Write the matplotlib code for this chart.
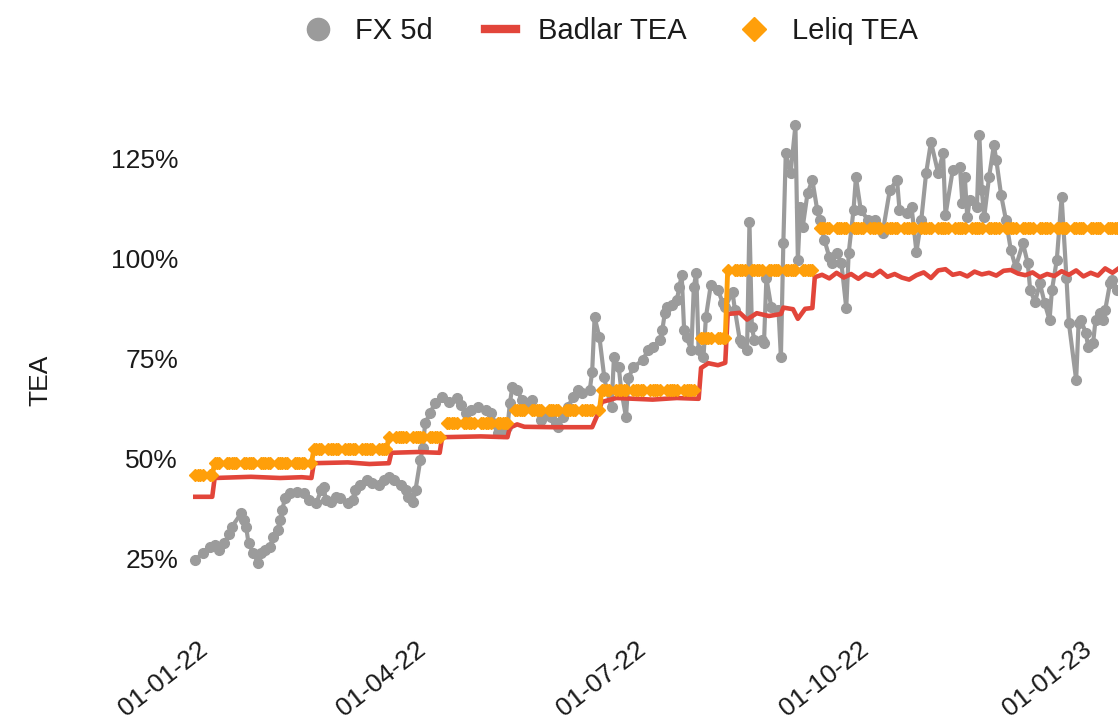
import numpy as np
import pandas as pd
import matplotlib
matplotlib.use("Agg")
import matplotlib.pyplot as plt
import matplotlib.dates as mdates
from matplotlib.lines import Line2D

plt.rcParams['font.family'] = ['Liberation Sans', 'DejaVu Sans']

# FX 5d (gray)
fx_dates = [
    "2021-12-28", "2021-12-31", "2022-01-03", "2022-01-05", "2022-01-07", "2022-01-09", "2022-01-11", "2022-01-12", "2022-01-16", "2022-01-17", "2022-01-18", "2022-01-19", "2022-01-21", "2022-01-23", "2022-01-24", "2022-01-26", "2022-01-28", "2022-01-29", "2022-01-31",
    "2022-02-01", "2022-02-02", "2022-02-03", "2022-02-05", "2022-02-08", "2022-02-11", "2022-02-13", "2022-02-16", "2022-02-18", "2022-02-19", "2022-02-20", "2022-02-22", "2022-02-24", "2022-02-26",
    "2022-03-01", "2022-03-03", "2022-03-04", "2022-03-06", "2022-03-09", "2022-03-11", "2022-03-14", "2022-03-16", "2022-03-18", "2022-03-20", "2022-03-23", "2022-03-25", "2022-03-26", "2022-03-28", "2022-03-29", "2022-03-31",
    "2022-04-01", "2022-04-02", "2022-04-04", "2022-04-06", "2022-04-09", "2022-04-12", "2022-04-15", "2022-04-17", "2022-04-19", "2022-04-21", "2022-04-24", "2022-04-27", "2022-04-29", "2022-04-30",
    "2022-05-02", "2022-05-04", "2022-05-06", "2022-05-07", "2022-05-08", "2022-05-10", "2022-05-12", "2022-05-14", "2022-05-16", "2022-05-18", "2022-05-20", "2022-05-22", "2022-05-24", "2022-05-26", "2022-05-27", "2022-05-29", "2022-05-31",
    "2022-06-02", "2022-06-04", "2022-06-06", "2022-06-09", "2022-06-10", "2022-06-11", "2022-06-13", "2022-06-15", "2022-06-16", "2022-06-18", "2022-06-19", "2022-06-21", "2022-06-22", "2022-06-24", "2022-06-25", "2022-06-27",
    "2022-07-01", "2022-07-03", "2022-07-05", "2022-07-08", "2022-07-09", "2022-07-10", "2022-07-11", "2022-07-13", "2022-07-15", "2022-07-16", "2022-07-17", "2022-07-18", "2022-07-19", "2022-07-21", "2022-07-22", "2022-07-23", "2022-07-24", "2022-07-26", "2022-07-27", "2022-07-29",
    "2022-08-01", "2022-08-03", "2022-08-04", "2022-08-07", "2022-08-08", "2022-08-10", "2022-08-11", "2022-08-13", "2022-08-14", "2022-08-15", "2022-08-16", "2022-08-19", "2022-08-20", "2022-08-21", "2022-08-23", "2022-08-26", "2022-08-27", "2022-08-28", "2022-08-29", "2022-08-31",
    "2022-09-02", "2022-09-03", "2022-09-04", "2022-09-05", "2022-09-07", "2022-09-09", "2022-09-11", "2022-09-12", "2022-09-14", "2022-09-16", "2022-09-17", "2022-09-19", "2022-09-21", "2022-09-23", "2022-09-24", "2022-09-26", "2022-09-27", "2022-09-29",
    "2022-10-02", "2022-10-05", "2022-10-08", "2022-10-11", "2022-10-14", "2022-10-15", "2022-10-18", "2022-10-20", "2022-10-22", "2022-10-24", "2022-10-26", "2022-10-28", "2022-10-31",
    "2022-11-02", "2022-11-03", "2022-11-06", "2022-11-09", "2022-11-10", "2022-11-11", "2022-11-12", "2022-11-13", "2022-11-16", "2022-11-17", "2022-11-18", "2022-11-19", "2022-11-21", "2022-11-23", "2022-11-24", "2022-11-26", "2022-11-28", "2022-11-30",
    "2022-12-02", "2022-12-05", "2022-12-07", "2022-12-08", "2022-12-10", "2022-12-12", "2022-12-14", "2022-12-16", "2022-12-17", "2022-12-19", "2022-12-21", "2022-12-23", "2022-12-24", "2022-12-27", "2022-12-28", "2022-12-29", "2022-12-31",
    "2023-01-01", "2023-01-03", "2023-01-04", "2023-01-06", "2023-01-07", "2023-01-08", "2023-01-10", "2023-01-11", "2023-01-13",
]
fx_vals = [
    24.5, 26.2, 27.8, 28.2, 27.0, 28.7, 31.0, 32.7, 36.2, 34.5, 32.8, 28.7, 26.2, 23.7, 26.2, 27.0, 27.8, 30.2, 32.0,
    34.5, 37.0, 40.0, 41.2, 41.5, 41.2, 39.5, 38.7, 42.0, 42.7, 39.5, 39.0, 40.2, 40.0,
    38.7, 39.5, 42.0, 43.2, 44.5, 43.7, 43.2, 44.5, 45.2, 44.5, 43.2, 42.0, 40.2, 39.0, 42.0, 49.5,
    52.5, 58.7, 61.2, 63.7, 65.2, 64.0, 65.0, 63.2, 61.2, 62.0, 62.7, 62.0, 61.2, 58.7,
    56.2, 56.2, 57.7, 63.7, 67.7, 67.0, 64.5, 63.7, 64.5, 62.0, 59.5, 61.2, 60.2, 58.7, 57.7, 60.2, 62.7,
    65.2, 67.0, 66.2, 67.0, 71.5, 85.2, 80.2, 70.2, 67.0, 62.7, 75.2, 72.7, 67.0, 60.2, 70.0, 72.7,
    74.5, 77.0, 77.7, 79.5, 82.0, 86.2, 87.7, 88.2, 89.5, 92.7, 95.7, 82.0, 80.2, 77.0, 92.7, 96.2, 77.0, 75.2, 85.2, 93.2,
    92.0, 88.7, 87.7, 91.5, 87.0, 79.5, 78.7, 77.0, 109.0, 82.7, 79.5, 79.5, 78.7, 95.0, 87.7, 87.0, 75.2, 103.7, 126.2, 121.2,
    133.2, 99.5, 112.7, 107.7, 116.2, 119.5, 112.0, 109.5, 104.5, 100.2, 98.7, 101.2, 98.7, 87.5, 101.2, 112.0, 120.2, 112.0,
    109.5, 109.5, 106.2, 117.0, 119.5, 112.0, 111.2, 112.7, 101.5, 109.5, 121.2, 129.0, 121.2,
    126.2, 110.7, 122.0, 122.7, 113.7, 120.2, 110.2, 114.5, 112.7, 130.7, 117.0, 110.2, 120.2, 128.2, 124.5, 115.7, 109.5, 102.0,
    97.7, 103.7, 98.7, 92.0, 89.0, 93.7, 88.7, 84.5, 92.0, 99.5, 115.2, 95.0, 83.7, 69.5, 83.7, 84.5, 81.2,
    77.7, 78.7, 84.5, 86.2, 84.5, 87.0, 93.7, 94.5, 92.0,
]

# Badlar TEA (red)
badlar_dates = [
    "2021-12-28", "2022-01-04", "2022-01-05", "2022-01-20", "2022-02-01", "2022-02-10", "2022-02-14", "2022-02-15",
    "2022-03-01", "2022-03-10", "2022-03-18", "2022-03-19", "2022-03-30", "2022-04-08", "2022-04-09", "2022-04-25",
    "2022-05-06", "2022-05-07", "2022-05-10", "2022-05-13", "2022-05-25", "2022-06-10", "2022-06-12", "2022-06-14",
    "2022-06-20", "2022-07-05", "2022-07-15", "2022-07-24", "2022-07-25", "2022-07-28", "2022-08-01", "2022-08-04",
    "2022-08-05", "2022-08-10", "2022-08-13", "2022-08-17", "2022-08-22", "2022-08-27", "2022-08-28", "2022-09-01",
    "2022-09-03", "2022-09-06", "2022-09-09", "2022-09-10",
    "2022-09-13", "2022-09-16", "2022-09-19", "2022-09-22", "2022-09-25", "2022-09-28",
    "2022-10-01", "2022-10-04", "2022-10-07", "2022-10-10", "2022-10-13", "2022-10-16", "2022-10-19", "2022-10-22", "2022-10-25", "2022-10-28", "2022-10-31",
    "2022-11-03", "2022-11-06", "2022-11-09", "2022-11-12", "2022-11-15", "2022-11-18", "2022-11-21", "2022-11-24", "2022-11-27", "2022-11-30",
    "2022-12-03", "2022-12-06", "2022-12-09", "2022-12-12", "2022-12-15", "2022-12-18", "2022-12-21", "2022-12-24", "2022-12-27", "2022-12-30",
    "2023-01-02", "2023-01-05", "2023-01-08", "2023-01-11", "2023-01-14",
]
badlar_vals = [
    40.3, 40.3, 45.0, 45.3, 45.0, 45.2, 45.0, 48.7,
    48.9, 48.5, 48.7, 51.3, 51.5, 51.3, 55.2, 55.4,
    55.2, 57.6, 58.4, 57.8, 57.7, 57.7, 60.5, 64.0,
    65.0, 64.6, 65.0, 64.8, 72.5, 73.7, 73.2, 73.8,
    86.0, 86.3, 84.6, 86.2, 85.5, 86.0, 87.6, 87.2,
    84.8, 87.3, 87.5, 95.2,
    95.8, 94.9, 96.3, 95.1, 96.0, 94.8,
    96.1, 95.5, 96.8, 95.3, 96.0, 95.1, 94.6, 95.7, 96.4, 95.0, 96.9,
    97.2, 95.8, 96.2, 95.4, 96.6, 95.9, 96.3, 95.6, 96.8, 97.0,
    96.1, 95.7, 96.4, 95.2, 96.0, 95.5, 96.7, 95.8, 96.9, 95.4,
    96.3, 95.6, 97.4, 96.3, 97.6,
]

# Leliq TEA (orange): rate level and the date it took effect
leliq_change = ["2021-12-28", "2022-01-05", "2022-02-15", "2022-03-18", "2022-04-09",
                "2022-05-07", "2022-06-14", "2022-07-25", "2022-08-05", "2022-09-10"]
leliq_level = [45.7, 48.7, 52.2, 55.2, 58.7, 62.0, 67.0, 80.0, 97.0, 107.5]

tick_dates = ["2022-01-01", "2022-04-01", "2022-07-01", "2022-10-01", "2023-01-01"]
y_ticks = [25, 50, 75, 100, 125]

gray = "#9b9b9b"
red = "#e2453a"
orange = "#ff9f0a"
txt = "#1a1a1a"

# leliq only published on business days -> gaps on weekends
days = pd.date_range("2021-12-28", "2023-01-15", freq="D")
leliq = pd.Series(leliq_level, index=pd.to_datetime(leliq_change)).reindex(days, method="ffill")
leliq[days.dayofweek >= 5] = np.nan

fig = plt.figure(figsize=(11.18, 7.21), dpi=100)
ax = fig.add_axes([185 / 1118, 1 - 590 / 721, 1 - 185 / 1118, (590 - 105) / 721])

ax.plot(pd.to_datetime(fx_dates), fx_vals, color=gray, lw=3, marker='o', ms=7, zorder=2)
ax.plot(pd.to_datetime(badlar_dates), badlar_vals, color=red, lw=3.3, zorder=3)
ax.plot(leliq.index, leliq.values, color=orange, lw=3.5, marker='D', ms=6, zorder=4)

ax.set_xlim(pd.Timestamp("2021-12-23 18:00"), pd.Timestamp("2023-01-13 07:00"))
ax.set_ylim(17, 138.25)

ax.set_yticks(y_ticks)
ax.set_yticklabels([f"{v}%" for v in y_ticks])
ax.set_xticks(pd.to_datetime(tick_dates))
ax.xaxis.set_major_formatter(mdates.DateFormatter('%d-%m-%y'))

ax.tick_params(axis='both', length=0, labelsize=19, labelcolor=txt)
ax.tick_params(axis='y', pad=5)
ax.tick_params(axis='x', pad=41)
for lab in ax.get_xticklabels():
    lab.set_rotation(38)
    lab.set_ha('right')
    lab.set_va('center')
    lab.set_rotation_mode('anchor')

for s in ax.spines.values():
    s.set_visible(False)

fig.text(40 / 1118, 1 - 380 / 721, "TEA", rotation=90, fontsize=19, color=txt,
         ha='center', va='center')

handles = [
    Line2D([], [], color=gray, marker='o', ls='none', ms=16),
    Line2D([], [], color=red, lw=6),
    Line2D([], [], color=orange, marker='D', ls='none', ms=12),
]
fig.legend(handles, ["FX 5d", "Badlar TEA", "Leliq TEA"], loc='upper center',
           bbox_to_anchor=(610 / 1118, 1.013), ncol=3, frameon=False, fontsize=21,
           handlelength=1.05, handletextpad=0.75, columnspacing=1.8, labelcolor=txt)

fig.savefig("out.png", dpi=100, facecolor="white")
